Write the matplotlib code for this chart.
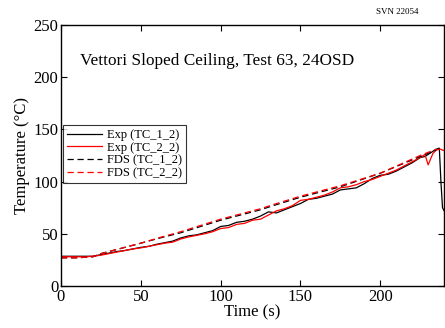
import matplotlib
matplotlib.use("Agg")
import matplotlib.pyplot as plt

plt.rcParams["font.family"] = ["Liberation Serif", "DejaVu Serif"]
plt.rcParams["mathtext.fontset"] = "stix"

# experimental data, TC_1_2 and TC_2_2
exp_time = [0, 5, 10, 15, 20, 25, 30, 35, 40, 45, 50, 55, 60, 65, 70, 75, 80,
            85, 90, 95, 100, 105, 110, 115, 120, 125, 130, 135, 140, 145, 150,
            155, 160, 165, 170, 175, 180, 185, 190, 195, 200, 205, 210, 215,
            220, 225, 228, 230, 233, 235, 237, 238, 239, 240]
exp_tc1 = [28.5, 28.5, 28.5, 28.5, 28.5, 30, 31.5, 33, 34, 35.5, 37, 38, 40,
           41.5, 43, 46, 48, 49, 51, 53, 57, 58, 61, 62, 64, 67, 71, 70, 73,
           76, 79, 83, 84, 86, 88, 92, 93, 94, 98, 103, 106, 107, 110, 114,
           118, 123, 124, 126, 129, 131, 132, 100, 75, 72]
exp_tc2 = [28, 28, 28, 28, 28.5, 29.5, 31, 32.5, 34, 35.5, 36.5, 38, 39.5,
           41, 42, 45, 47, 48.5, 50, 52, 55, 56, 59, 60, 63, 64, 68, 72, 74,
           77, 82, 83, 85, 87, 90, 94, 95, 97, 100, 102, 105, 108, 111, 115,
           119, 123, 126, 116, 127, 130, 131, 131, 130, 130]

# FDS predictions
fds_time = [0, 10, 20, 25, 50, 62, 75, 100, 125, 133, 150, 175, 200, 225, 235]
fds_tc1 = [27, 27, 28, 31, 41, 46, 51, 63, 73, 77, 85, 95, 108, 124, 130]
fds_tc2 = [27, 27, 28, 31, 41, 46.5, 52, 64, 74, 78, 86, 96, 108, 125, 131]

fig = plt.figure(figsize=(4.45, 3.28), dpi=100)
ax = fig.add_axes([0.137, 0.128, 0.861, 0.796])

ax.plot(exp_time, exp_tc1, color="black", lw=0.9, label="Exp (TC_1_2)")
ax.plot(exp_time, exp_tc2, color="red", lw=0.9, label="Exp (TC_2_2)")
ax.plot(fds_time, fds_tc1, color="black", lw=0.9, ls=(0, (5, 3)), label="FDS (TC_1_2)")
ax.plot(fds_time, fds_tc2, color="red", lw=0.9, ls=(0, (5, 3)), label="FDS (TC_2_2)")

ax.set_xlim(0, 240)
ax.set_ylim(0, 250)
ax.set_xticks([0, 50, 100, 150, 200])
ax.set_yticks([0, 50, 100, 150, 200, 250])
ax.tick_params(direction="in", top=True, right=True, labelsize=12, length=4, pad=2)
for s in ax.spines.values():
    s.set_linewidth(1.0)

ax.set_xlabel("Time (s)", fontsize=12, labelpad=0)
ax.set_ylabel("Temperature (\u00b0C)", fontsize=12, labelpad=2)

ax.text(12, 215, "Vettori Sloped Ceiling, Test 63, 24OSD", fontsize=12.4, va="center")
fig.text(0.94, 0.962, "SVN 22054", fontsize=6.5, ha="right", va="center")

leg = ax.legend(loc="upper left", bbox_to_anchor=(0.0, 0.625), fontsize=9,
                frameon=True, fancybox=False, edgecolor="black", borderpad=0.3,
                labelspacing=0.05, handlelength=2.8, handletextpad=0.4,
                borderaxespad=0.2)
leg.get_frame().set_linewidth(0.8)

fig.savefig("out.png", dpi=100)
